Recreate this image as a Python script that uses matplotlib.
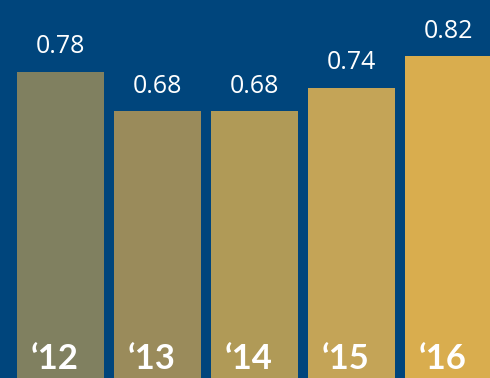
import matplotlib
matplotlib.use("Agg")
import matplotlib.pyplot as plt

# data
years = ["\u201812", "\u201813", "\u201814", "\u201815", "\u201816"]
values = [0.78, 0.68, 0.68, 0.74, 0.82]
value_labels = ["0.78", "0.68", "0.68", "0.74", "0.82"]
bar_colors = ["#808060", "#9a8b5b", "#b09a57", "#c4a457", "#d9ad4e"]

bg = "#00457c"

fig = plt.figure(figsize=(4.9, 3.78), dpi=100)
fig.patch.set_facecolor(bg)
ax = fig.add_axes([0, 0, 1, 1])
ax.set_facecolor(bg)

x = list(range(len(values)))
bars = ax.bar(x, values, width=0.897, color=bar_colors, zorder=2)

ax.set_xlim(-0.624, 4.428)
ax.set_ylim(0, 0.964)
ax.axis("off")

for xi, v, lab, yr in zip(x, values, value_labels, years):
    ax.annotate(lab, (xi, v), xytext=(0, 13.5), textcoords="offset points",
                ha="center", va="baseline", color="white",
                fontsize=18, family=["Open Sans", "DejaVu Sans"])
    ax.annotate(yr, (xi, 0), xytext=(-4, 6.5), textcoords="offset points",
                ha="center", va="baseline", color="white",
                fontsize=25, fontweight="bold", family=["Lato", "DejaVu Sans"])

fig.savefig("out.png", dpi=100, facecolor=bg)
